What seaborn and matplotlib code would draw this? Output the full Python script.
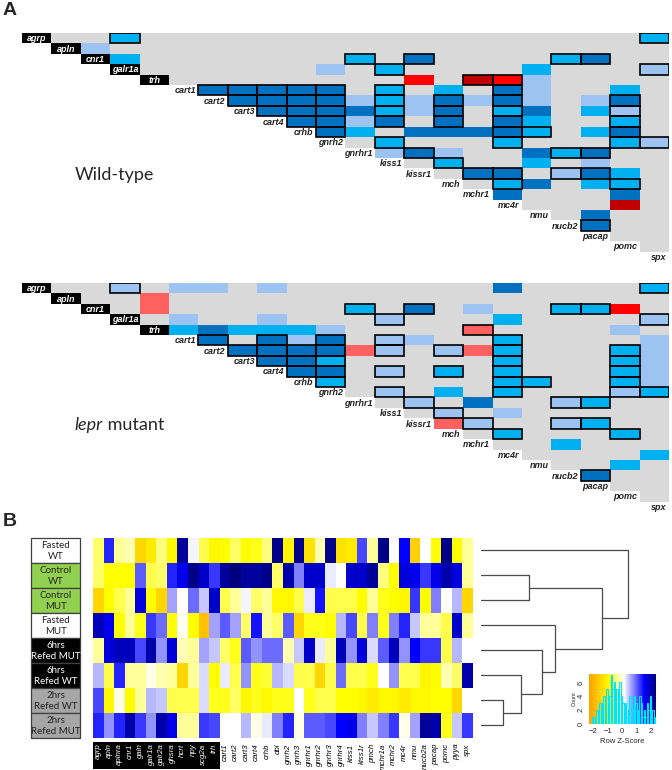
"""
Neuropeptide co-expression triangles (A) and group heatmap (B).
"""

import numpy as np
import pandas as pd
import matplotlib
matplotlib.use("Agg")
import matplotlib.pyplot as plt
from matplotlib.colors import ListedColormap, LinearSegmentedColormap
from matplotlib.patches import Rectangle
import seaborn as sns

# ---- panel A data -------------------------------------------------------
GENES_A = ["agrp", "apln", "cnr1", "galr1a", "trh", "cart1", "cart2", "cart3",
           "cart4", "crhb", "gnrh2", "gnrhr1", "kiss1", "kissr1", "mch",
           "mchr1", "mc4r", "nmu", "nucb2", "pacap", "pomc", "spx"]
N_BLACK_A = 5

# colour classes: gray = no correlation, L/M/D = weak/medium/strong positive,
# P/R/K = weak/medium/strong negative
CLASS_KEYS = ["gray", "L", "M", "D", "P", "R", "K"]
CLASS_COLOURS = ["#D9D9D9", "#9DC3F2", "#00B0F0", "#0070C0",
                 "#FF6161", "#FF0000", "#C00000"]

# (row gene, column gene, class, boxed)
WT_CELLS = [
    ("agrp", "galr1a", "M", 1), ("agrp", "spx", "M", 1),
    ("apln", "cnr1", "L", 0),
    ("cnr1", "galr1a", "M", 0), ("cnr1", "gnrhr1", "M", 1), ("cnr1", "kissr1", "D", 1),
    ("cnr1", "nucb2", "M", 1), ("cnr1", "pacap", "D", 1),
    ("galr1a", "gnrh2", "L", 0), ("galr1a", "kiss1", "M", 1), ("galr1a", "nmu", "M", 0),
    ("galr1a", "spx", "L", 1),
    ("trh", "kissr1", "R", 0), ("trh", "mchr1", "K", 1), ("trh", "mc4r", "R", 1),
    ("trh", "nmu", "L", 0),
    ("cart1", "cart2", "D", 1), ("cart1", "cart3", "D", 1), ("cart1", "cart4", "D", 1),
    ("cart1", "crhb", "D", 1), ("cart1", "gnrh2", "D", 1), ("cart1", "kiss1", "M", 1),
    ("cart1", "mch", "M", 0), ("cart1", "mc4r", "D", 1), ("cart1", "nmu", "L", 0),
    ("cart1", "pomc", "M", 0),
    ("cart2", "cart3", "D", 1), ("cart2", "cart4", "D", 1), ("cart2", "crhb", "D", 1),
    ("cart2", "gnrh2", "D", 1), ("cart2", "gnrhr1", "L", 0), ("cart2", "kiss1", "M", 1),
    ("cart2", "kissr1", "L", 0), ("cart2", "mch", "D", 1), ("cart2", "mchr1", "L", 0),
    ("cart2", "mc4r", "D", 1), ("cart2", "nmu", "L", 0), ("cart2", "pacap", "L", 0),
    ("cart2", "pomc", "D", 1),
    ("cart3", "cart4", "D", 1), ("cart3", "crhb", "D", 1), ("cart3", "gnrh2", "D", 1),
    ("cart3", "gnrhr1", "D", 0), ("cart3", "kiss1", "M", 1), ("cart3", "kissr1", "L", 0),
    ("cart3", "mch", "D", 1), ("cart3", "mc4r", "M", 1), ("cart3", "nmu", "D", 0),
    ("cart3", "pacap", "M", 0), ("cart3", "pomc", "L", 1),
    ("cart4", "crhb", "D", 1), ("cart4", "gnrh2", "D", 1), ("cart4", "gnrhr1", "L", 0),
    ("cart4", "kiss1", "D", 1), ("cart4", "mch", "D", 1), ("cart4", "mc4r", "D", 1),
    ("cart4", "nmu", "M", 0), ("cart4", "pomc", "M", 1),
    ("crhb", "gnrh2", "D", 1), ("crhb", "gnrhr1", "M", 0), ("crhb", "kissr1", "D", 0),
    ("crhb", "mch", "D", 0), ("crhb", "mchr1", "D", 0), ("crhb", "mc4r", "D", 1),
    ("crhb", "nmu", "M", 1), ("crhb", "pacap", "M", 0), ("crhb", "pomc", "D", 1),
    ("gnrh2", "kiss1", "M", 1), ("gnrh2", "mc4r", "M", 1), ("gnrh2", "pomc", "M", 1),
    ("gnrh2", "spx", "L", 1),
    ("gnrhr1", "kiss1", "L", 0), ("gnrhr1", "kissr1", "D", 1), ("gnrhr1", "mch", "L", 0),
    ("gnrhr1", "nmu", "D", 0), ("gnrhr1", "nucb2", "M", 1), ("gnrhr1", "pacap", "D", 1),
    ("kiss1", "mch", "M", 1), ("kiss1", "nmu", "M", 0), ("kiss1", "pacap", "L", 0),
    ("kissr1", "mchr1", "D", 1), ("kissr1", "mc4r", "D", 1), ("kissr1", "nucb2", "L", 1),
    ("kissr1", "pacap", "D", 1), ("kissr1", "pomc", "M", 0),
    ("mch", "mc4r", "M", 1), ("mch", "nmu", "D", 0), ("mch", "pacap", "M", 0),
    ("mch", "pomc", "M", 1),
    ("mchr1", "mc4r", "D", 0), ("mchr1", "pomc", "D", 0),
    ("mc4r", "pomc", "K", 0),
    ("nmu", "pacap", "D", 0),
    ("nucb2", "pacap", "D", 1),
]

MUT_CELLS = [
    ("agrp", "galr1a", "L", 1), ("agrp", "cart1", "L", 0), ("agrp", "cart2", "L", 0),
    ("agrp", "cart4", "L", 0), ("agrp", "mc4r", "D", 0), ("agrp", "spx", "M", 1),
    ("apln", "trh", "P", 0),
    ("cnr1", "trh", "P", 0), ("cnr1", "gnrhr1", "M", 1), ("cnr1", "kissr1", "D", 1),
    ("cnr1", "mchr1", "L", 0), ("cnr1", "nucb2", "M", 1), ("cnr1", "pacap", "M", 1),
    ("cnr1", "pomc", "R", 0),
    ("galr1a", "cart1", "L", 0), ("galr1a", "cart4", "L", 0), ("galr1a", "kiss1", "L", 1),
    ("galr1a", "mc4r", "M", 0), ("galr1a", "spx", "L", 1),
    ("trh", "cart1", "M", 0), ("trh", "cart2", "D", 0), ("trh", "cart3", "M", 0),
    ("trh", "cart4", "M", 0), ("trh", "crhb", "M", 0), ("trh", "gnrh2", "L", 0),
    ("trh", "mchr1", "P", 1), ("trh", "pomc", "L", 0),
    ("cart1", "cart2", "D", 1), ("cart1", "cart4", "D", 1), ("cart1", "crhb", "L", 0),
    ("cart1", "gnrh2", "D", 1), ("cart1", "kiss1", "L", 1), ("cart1", "kissr1", "L", 0),
    ("cart1", "mc4r", "M", 1), ("cart1", "spx", "L", 0),
    ("cart2", "cart3", "D", 1), ("cart2", "cart4", "D", 1), ("cart2", "crhb", "D", 1),
    ("cart2", "gnrh2", "D", 1), ("cart2", "gnrhr1", "P", 0), ("cart2", "kiss1", "L", 1),
    ("cart2", "mch", "L", 1), ("cart2", "mchr1", "P", 0), ("cart2", "mc4r", "M", 1),
    ("cart2", "pomc", "M", 1), ("cart2", "spx", "L", 0),
    ("cart3", "cart4", "D", 1), ("cart3", "crhb", "D", 1), ("cart3", "gnrh2", "M", 1),
    ("cart3", "mc4r", "M", 1), ("cart3", "pomc", "M", 1), ("cart3", "spx", "L", 0),
    ("cart4", "crhb", "D", 1), ("cart4", "gnrh2", "D", 1), ("cart4", "kiss1", "L", 1),
    ("cart4", "mch", "M", 1), ("cart4", "mc4r", "M", 1), ("cart4", "pomc", "M", 1),
    ("cart4", "spx", "L", 0),
    ("crhb", "gnrh2", "M", 1), ("crhb", "mc4r", "M", 1), ("crhb", "nmu", "M", 1),
    ("crhb", "pomc", "M", 1), ("crhb", "spx", "L", 0),
    ("gnrh2", "kiss1", "L", 1), ("gnrh2", "mch", "M", 0), ("gnrh2", "mc4r", "M", 1),
    ("gnrh2", "pomc", "L", 1), ("gnrh2", "spx", "M", 1),
    ("gnrhr1", "kissr1", "L", 1), ("gnrhr1", "mchr1", "D", 0), ("gnrhr1", "nucb2", "L", 1),
    ("gnrhr1", "pacap", "M", 1),
    ("kiss1", "mch", "L", 1), ("kiss1", "mc4r", "L", 0),
    ("kissr1", "mch", "P", 0), ("kissr1", "mchr1", "L", 1), ("kissr1", "nucb2", "L", 1),
    ("kissr1", "pacap", "M", 1),
    ("mch", "mc4r", "M", 1), ("mch", "pomc", "M", 1),
    ("mchr1", "nucb2", "M", 0),
    ("mc4r", "spx", "M", 0),
    ("nmu", "pomc", "M", 0),
    ("nucb2", "pacap", "D", 1),
]

# ---- panel B data -------------------------------------------------------
GENES_B = ["agrp", "apln", "aplnra", "cnr1", "galn", "galr1a", "galr2a", "ghsra",
           "hcrt", "npy", "scg2a", "trh", "cart1", "cart2", "cart3", "cart4", "crhb",
           "dbi", "gnrh2", "gnrh3", "gnrhr1", "gnrhr2", "gnrhr3", "gnrhr4", "kiss1",
           "kiss1r", "pmch", "mchr1a", "mchr2", "mc4r", "nmu", "nucb2a", "pacap",
           "pomc", "pyya", "spx"]
N_BLACK_B = 12

GROUPS = ["Fasted\nWT", "Control\nWT", "Control\nMUT", "Fasted\nMUT",
          "6hrs\nRefed MUT", "6hrs\nRefed WT", "2hrs\nRefed WT", "2hrs\nRefed MUT"]
GROUP_COLOURS = ["white", "#92D050", "#92D050", "white",
                 "black", "black", "#A6A6A6", "#A6A6A6"]

FASTED_WT = [-0.5, 1.3, -0.3, -0.2, -1.5, -1.2, -0.4, -1.0, 2.1, 0.15, -0.6, -1.0,
             -0.9, -0.5, -0.9, -0.8, -0.4, 2.2, -1.0, 2.2, -1.3, -0.2, 2.2, -1.3,
             -1.2, 1.1, -0.3, 2.2, 0.1, 1.5, -1.6, 0.1, -0.9, 2.2, -0.9, -0.3]
CONTROL_WT = [-0.5, -0.9, -0.9, -0.9, 1.0, -0.6, -0.5, 1.3, 1.6, 2.2, 1.8, 1.2,
              2.1, 2.3, 2.1, 2.1, 2.2, -0.5, 2.0, 0.8, 1.8, 1.8, 0.2, 0.1,
              1.8, 1.8, 2.1, -0.4, -0.9, 1.7, 1.6, 1.2, 1.6, 2.0, 1.7, -0.3]
CONTROL_MUT = [-1.5, -0.9, -0.6, -0.3, 1.7, -0.9, -1.5, 0.6, 0.1, 0.9, 0.4, 1.8,
               -0.6, -0.3, 0.15, -0.5, -0.3, -1.0, -1.0, -0.6, 0.2, 1.4, -0.6, -0.6,
               -0.6, -0.9, -0.3, -0.8, -0.9, -1.0, 1.2, -0.9, 0.8, 0.1, 0.5, -1.5]
FASTED_MUT = [1.9, 1.6, -0.9, -0.3, -0.8, 1.2, 0.9, -0.9, 0.05, -0.9, -1.8, 0.6,
              1.0, 0.6, -0.5, 1.4, -0.3, -0.5, 1.0, -1.5, -0.8, -0.8, -0.9, 0.5,
              1.1, -0.6, 0.8, -0.8, 0.8, 1.3, 0.4, -0.3, -0.3, -0.6, 1.8, -0.3]
REFED6_MUT = [-0.3, 1.7, 1.9, 1.9, 1.1, 2.0, 0.7, 1.7, -0.2, -0.3, 0.6, 0.4,
              -0.5, -0.8, 1.0, 0.7, 0.9, 0.9, -0.2, 0.4, 1.8, 0.2, -0.3, 1.9,
              0.7, 1.7, 0.3, 1.0, 1.9, 0.7, 1.5, 1.2, 1.2, -0.6, 0.5, 0.1]
REFED6_WT = [0.5, -0.6, 1.3, -0.3, -0.3, 0.0, -0.2, -0.3, -1.5, -0.3, 0.3, -0.9,
             0.2, -0.6, 0.7, -0.8, -0.7, 0.5, 0.3, -0.6, -0.6, -1.5, -0.6, 0.9,
             -0.6, -0.6, -0.8, 0.1, 0.7, -0.6, -0.6, -1.0, -0.9, -0.2, -0.5, 2.0]
REFED2_WT = [1.1, -1.0, 0.0, -0.9, -0.3, 0.5, 0.4, -0.6, -0.6, -0.6, 0.3, -0.8,
             -0.8, -0.5, -1.0, -0.8, -1.0, -0.8, -0.8, 0.1, -0.8, -0.6, -0.6, -0.9,
             -0.9, -1.0, -1.2, -1.0, -1.0, -1.2, -1.0, -1.0, -0.9, -0.9, -1.5, 0.1]
REFED2_MUT = [1.3, 0.7, 1.3, 2.0, 1.2, 0.7, 2.0, 1.6, -0.3, -0.3, 1.2, 1.1,
              0.1, 0.1, 0.5, 0.0, 0.2, 0.8, 1.3, 0.0, 1.0, 1.0, 1.1, 1.5,
              1.6, 0.8, 0.4, 0.8, 1.2, 0.0, 0.6, 2.1, 2.0, -0.8, 0.4, 1.2]

# row dendrogram: (child a, child b, height); ids >= 8 are earlier merges
DENDRO_MERGES = [(6, 7, 21.7), (5, 8, 40.0), (1, 2, 47.7), (4, 9, 61.0),
                 (3, 11, 74.3), (10, 12, 121.0), (0, 13, 147.0)]

# colour key histogram (counts per z-score bin)
KEY_COUNTS = [0, 0, 1, 1, 1, 2, 1, 3, 2, 3, 4, 2, 5, 3, 4, 7, 5, 6, 4, 5, 3, 6, 4,
              3, 2, 3, 1, 2, 4, 3, 2, 4, 3, 2, 2, 4, 3, 1, 2, 1, 3, 2, 4, 1, 2, 1]

Z_MIN, Z_MAX = -2.3, 2.3

sns.set_style("white")
plt.rcParams["font.family"] = ["Liberation Sans", "DejaVu Sans"]


# ====================
def draw_triangle(ax, cells):
    """Upper-triangle colour matrix with boxed significant cells."""
    n = len(GENES_A)
    idx = {g: i for i, g in enumerate(GENES_A)}
    codes = np.full((n, n), np.nan)
    for i in range(n - 1):
        codes[i, i + 1:] = 0
    for a, b, c, _ in cells:
        codes[idx[a], idx[b]] = CLASS_KEYS.index(c)
    sns.heatmap(codes, mask=np.isnan(codes), cmap=ListedColormap(CLASS_COLOURS),
                vmin=-0.5, vmax=len(CLASS_COLOURS) - 0.5, cbar=False,
                xticklabels=False, yticklabels=False, ax=ax)
    for a, b, _, boxed in cells:
        if boxed:
            ax.add_patch(Rectangle((idx[b], idx[a]), 1, 1, fill=False,
                                   ec="black", lw=1.2, zorder=3))
    # gene labels on the diagonal
    for i, g in enumerate(GENES_A):
        if i < N_BLACK_A:
            ax.add_patch(Rectangle((i, i), 1, 1, fc="black", ec="none", zorder=3))
            ax.text(i + 0.5, i + 0.55, g, color="white", ha="center", va="center",
                    fontsize=6.5, fontweight="bold", fontstyle="italic", zorder=4)
        else:
            ax.text(i + 0.92, i + 0.55, g, color="#222222", ha="right", va="center",
                    fontsize=6.5, fontweight="bold", fontstyle="italic", zorder=4)
    ax.set_xlim(0, n)
    ax.set_ylim(n, 0)
    ax.axis("off")


# ====================
def draw_dendrogram(ax, merges, n_leaves):
    pos = {i: (i + 0.5, 0.0) for i in range(n_leaves)}
    for k, (a, b, h) in enumerate(merges):
        ya, ha = pos[a]
        yb, hb = pos[b]
        ax.plot([ha, h, h, hb], [ya, ya, yb, yb], color="#4a4a4a", lw=0.9)
        pos[n_leaves + k] = ((ya + yb) / 2, h)
    ax.set_ylim(n_leaves, 0)
    ax.set_xlim(0, 150)
    ax.axis("off")


# ====================
def main():
    fig = plt.figure(figsize=(6.72, 7.70), dpi=100)

    # ---- panel A
    ax_wt = fig.add_axes([0.0327, 0.6597, 0.9628, 0.2974])
    draw_triangle(ax_wt, WT_CELLS)
    ax_wt.text(3.15, 13.6, "Wild-type", family="Lato", fontsize=13,
               ha="center", va="center")

    ax_mut = fig.add_axes([0.0327, 0.3351, 0.9628, 0.2974])
    draw_triangle(ax_mut, MUT_CELLS)
    t1 = ax_mut.text(1.78, 13.6, "lepr", family="Lato", fontstyle="italic",
                     fontsize=13, ha="left", va="center")
    ax_mut.annotate(" mutant", xy=(1, 0), xycoords=t1, family="Lato",
                    fontsize=13, ha="left", va="bottom")

    fig.text(0.004, 0.997, "A", fontsize=14, fontweight="bold", va="top")
    fig.text(0.004, 0.334, "B", fontsize=14, fontweight="bold", va="top")

    # ---- panel B heatmap
    zcmap = LinearSegmentedColormap.from_list(
        "zscore",
        [(0.0, "#FFA000"), ((-0.9 - Z_MIN) / 4.6, "#FFFF00"),
         ((0.1 - Z_MIN) / 4.6, "#FFFFFF"), ((1.5 - Z_MIN) / 4.6, "#0000FF"),
         (1.0, "#00007A")])
    data = pd.DataFrame([FASTED_WT, CONTROL_WT, CONTROL_MUT, FASTED_MUT,
                         REFED6_MUT, REFED6_WT, REFED2_WT, REFED2_MUT],
                        index=GROUPS, columns=GENES_B)

    ax_h = fig.add_axes([0.1384, 0.0416, 0.5655, 0.2597])
    sns.heatmap(data, cmap=zcmap, vmin=Z_MIN, vmax=Z_MAX, cbar=False,
                xticklabels=False, yticklabels=False, ax=ax_h)
    ax_h.set_xlabel("")
    ax_h.set_ylabel("")

    # group label boxes
    for r, (lab, col) in enumerate(zip(GROUPS, GROUP_COLOURS)):
        ax_h.add_patch(Rectangle((-5.87, r), 4.64, 1, fc=col, ec="#404040",
                                 lw=0.9, clip_on=False))
        ax_h.text(-3.55, r + 0.52, lab, ha="center", va="center",
                  family="Lato", fontsize=7, linespacing=1.25,
                  color="white" if col == "black" else "#222222")

    # gene labels under the heatmap
    ax_h.add_patch(Rectangle((0, 8.16), N_BLACK_B, 1.08, fc="black",
                             ec="none", clip_on=False))
    for j, g in enumerate(GENES_B):
        ax_h.text(j + 0.5, 8.22, g, rotation=90, ha="center", va="top",
                  fontsize=5.7, fontstyle="italic",
                  color="white" if j < N_BLACK_B else "black")

    # ---- dendrogram
    ax_d = fig.add_axes([0.7158, 0.0416, 0.2232, 0.2597])
    draw_dendrogram(ax_d, DENDRO_MERGES, len(GROUPS))

    # ---- colour key
    ax_k = fig.add_axes([0.8765, 0.0597, 0.0997, 0.0649])
    grad = np.linspace(Z_MIN, Z_MAX, 256)[None, :]
    ax_k.imshow(grad, cmap=zcmap, aspect="auto", extent=[Z_MIN, 2.35, 0, 7.2],
                vmin=Z_MIN, vmax=Z_MAX)
    edges = np.linspace(Z_MIN, Z_MAX, len(KEY_COUNTS) + 1)
    ax_k.bar(edges[:-1], KEY_COUNTS, width=np.diff(edges), align="edge",
             fill=False, edgecolor="#00E5FF", lw=0.8)
    ax_k.set_xlim(Z_MIN, 2.35)
    ax_k.set_ylim(0, 7.2)
    ax_k.set_xticks([-2, -1, 0, 1, 2])
    ax_k.set_yticks([0, 2, 4, 6])
    ax_k.tick_params(labelsize=5.5, length=2, width=0.6, pad=1)
    plt.setp(ax_k.get_yticklabels(), rotation=90, va="center")
    ax_k.set_xlabel("Row Z-Score", fontsize=5.5, labelpad=2)
    ax_k.set_ylabel("Count", fontsize=4, labelpad=1)
    for s in ax_k.spines.values():
        s.set_visible(False)

    fig.savefig("out.png", dpi=100)


# ====================
if __name__ == "__main__":

    main()
